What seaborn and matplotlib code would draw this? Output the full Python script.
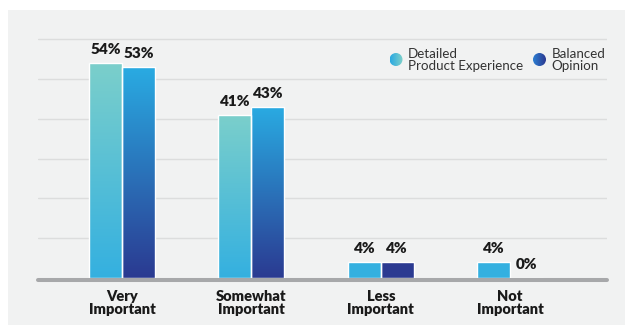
import numpy as np
import pandas as pd
import matplotlib
matplotlib.use("Agg")
import matplotlib.pyplot as plt
from matplotlib.colors import LinearSegmentedColormap
from matplotlib.patches import Rectangle, Circle
import seaborn as sns

# ---- data ----
categories = ["Very\nImportant", "Somewhat\nImportant", "Less\nImportant", "Not\nImportant"]
series_names = ["Detailed\nProduct Experience", "Balanced\nOpinion"]
detailed = [54, 41, 4, 4]
balanced = [53, 43, 4, 0]

# gradient colours per series: (bottom, top)
grad_colors = {
    series_names[0]: ("#34b0e0", "#7bcfcb"),
    series_names[1]: ("#2b3a91", "#29abe2"),
}
legend_grad = {
    series_names[0]: ("#2aa9e2", "#7fd1c9"),
    series_names[1]: ("#2b7ed2", "#2b3990"),
}

df = pd.DataFrame({
    "category": categories * 2,
    "value": detailed + balanced,
    "series": [series_names[0]] * 4 + [series_names[1]] * 4,
})

sns.set_theme(style="white")
plt.rcParams["font.family"] = ["Lato", "DejaVu Sans"]

W, H = 625, 325
fig = plt.figure(figsize=(W / 100, H / 100), dpi=100, facecolor="white")

# light grey panel behind the chart
fig.patches.append(Rectangle((8 / W, 0), 1, (H - 10) / H, transform=fig.transFigure,
                             facecolor="#f1f2f2", edgecolor="none", zorder=-5))

ax = fig.add_axes([0.0603, 0.1262, 0.9109, 0.7655])
ax.set_facecolor("none")

sns.barplot(data=df, x="category", y="value", hue="series", order=categories,
            hue_order=series_names, width=0.51, palette=["#34b0e0", "#2b3a91"],
            edgecolor="white", linewidth=1.0, legend=False, ax=ax)

ax.set_xlim(-0.653, 3.749)
ax.set_ylim(-1.5, 61)

# gradient fill for each bar, clipped to the bar shape
grad = np.linspace(0, 1, 256).reshape(-1, 1)
for container, name in zip(ax.containers, series_names):
    bottom_c, top_c = grad_colors[name]
    cmap = LinearSegmentedColormap.from_list(name, [bottom_c, top_c])
    for bar in container:
        h = bar.get_height()
        if h <= 0:
            continue
        x0 = bar.get_x()
        x1 = x0 + bar.get_width()
        if h >= 10:
            img = ax.imshow(grad, cmap=cmap, origin="lower", aspect="auto",
                            extent=[x0, x1, 0, h], zorder=2, interpolation="bilinear")
        else:
            img = ax.imshow(np.zeros((2, 1)), cmap=cmap, vmin=0, vmax=1, origin="lower",
                            aspect="auto", extent=[x0, x1, 0, h], zorder=2)
        img.set_clip_path(bar)
        bar.set_facecolor("none")
        bar.set_zorder(3)

    # value labels
    for bar in container:
        h = bar.get_height()
        ax.annotate(f"{h:.0f}%", (bar.get_x() + bar.get_width() / 2, h),
                    xytext=(0, 9.5), textcoords="offset points",
                    ha="center", va="center", fontsize=11, fontweight="heavy",
                    color="#1a1a1a", zorder=6)

ax.set_xlim(-0.653, 3.749)
ax.set_ylim(-1.5, 61)

# grid and baseline
ax.set_yticks([10, 20, 30, 40, 50, 60])
ax.yaxis.grid(True, color="#dcdddd", linewidth=1.0)
ax.set_axisbelow(True)
ax.tick_params(axis="y", left=False, labelleft=False)
ax.axhline(-0.58, color="#a7a8aa", linewidth=2.9, zorder=5, clip_on=False)
for s in ax.spines.values():
    s.set_visible(False)

ax.set_xlabel("")
ax.set_ylabel("")
ax.tick_params(axis="x", length=0, pad=4)
ax.set_xticks(range(len(categories)))
ax.set_xticklabels(categories, fontsize=10.5, fontweight="heavy", color="#1a1a1a",
                   linespacing=1.05)

# legend with gradient dots
lax = fig.add_axes([0, 0, 1, 1], zorder=10)
lax.set_xlim(0, W)
lax.set_ylim(H, 0)
lax.axis("off")
legend_pos = [(396, 59.5), (539.5, 59.5)]
dot_grad = np.linspace(0, 1, 64).reshape(1, -1)
for (cx, cy), name in zip(legend_pos, series_names):
    r = 6.5
    left_c, right_c = legend_grad[name]
    cmap = LinearSegmentedColormap.from_list(name + "_dot", [left_c, right_c])
    circ = Circle((cx, cy), r, facecolor="none", edgecolor="none")
    lax.add_patch(circ)
    im = lax.imshow(dot_grad, cmap=cmap, aspect="auto",
                    extent=[cx - r, cx + r, cy + r, cy - r], interpolation="bilinear")
    im.set_clip_path(circ)
    lax.text(cx + 12, cy + 0.5, name, ha="left", va="center", fontsize=9.6,
             color="#333333", linespacing=1.05)

fig.savefig("out.png", dpi=100, facecolor="white")
